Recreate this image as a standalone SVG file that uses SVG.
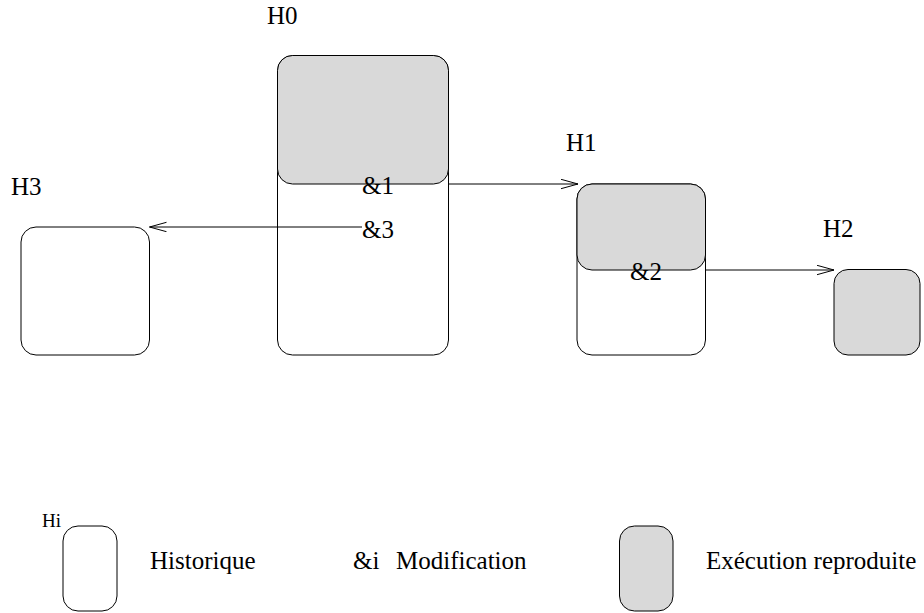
<svg xmlns="http://www.w3.org/2000/svg" width="924" height="613" viewBox="0 0 924 613">
  <style>
    text { font-family: 'Liberation Serif', 'Times New Roman', Times, 'DejaVu Serif', serif; font-size: 25px; fill: #000; }
    .small { font-size: 19px; }
    .box { fill: #fff; stroke: #000; stroke-width: 1; }
    .exec { fill: #d9d9d9; stroke: #000; stroke-width: 1; }
    .link { fill: none; stroke: #000; stroke-width: 1; }
  </style>
  <defs>
    <marker id="open-arrow" markerUnits="userSpaceOnUse" markerWidth="20" markerHeight="12" refX="17" refY="5" orient="auto">
      <polyline points="0,0.3 17,5 0,9.7" fill="none" stroke="#000" stroke-width="1"/>
    </marker>
  </defs>
  <rect width="924" height="613" fill="#fff"/>

  <!-- history H0 with its replayed part -->
  <g id="H0">
    <rect class="box" x="277.5" y="55.5" width="171" height="299.5" rx="15" ry="15"/>
    <rect class="exec" x="277.5" y="55.5" width="171" height="128.5" rx="15" ry="15"/>
    <text x="267" y="24" font-family="Liberation Serif, serif">H0</text>
  </g>

  <!-- history H1 -->
  <g id="H1">
    <rect class="box" x="577" y="184" width="128.5" height="171" rx="15" ry="15"/>
    <rect class="exec" x="577" y="184" width="128.5" height="86" rx="15" ry="15"/>
    <text x="566" y="151">H1</text>
  </g>

  <!-- history H2 -->
  <g id="H2">
    <rect class="exec" x="834" y="269.5" width="86" height="85.5" rx="14" ry="14"/>
    <text x="823" y="237">H2</text>
  </g>

  <!-- history H3 -->
  <g id="H3">
    <rect class="box" x="21" y="227" width="128.5" height="128" rx="15" ry="15"/>
    <text x="11" y="195">H3</text>
  </g>

  <!-- modifications -->
  <g id="connectors">
    <line class="link" x1="448.5" y1="184" x2="578" y2="184" marker-end="url(#open-arrow)"/>
    <line class="link" x1="705.5" y1="270" x2="834" y2="270" marker-end="url(#open-arrow)"/>
    <line class="link" x1="362" y1="227" x2="149.5" y2="227" marker-end="url(#open-arrow)"/>
  </g>
  <g id="modification-labels">
    <text x="362" y="194">&amp;1</text>
    <text x="630" y="280">&amp;2</text>
    <text x="362" y="238">&amp;3</text>
  </g>

  <!-- legend -->
  <g id="legend">
    <g id="legend-history">
      <rect class="box" x="63" y="526" width="54" height="85" rx="15" ry="15"/>
      <text class="small" x="42" y="527">Hi</text>
      <text x="150" y="569">Historique</text>
    </g>
    <g id="legend-modification">
      <text x="353" y="569">&amp;i</text>
      <text x="396" y="569">Modification</text>
    </g>
    <g id="legend-replay">
      <rect class="exec" x="619.5" y="526" width="53.5" height="85" rx="15" ry="15"/>
      <text x="706" y="569">Exécution reproduite</text>
    </g>
  </g>
</svg>
